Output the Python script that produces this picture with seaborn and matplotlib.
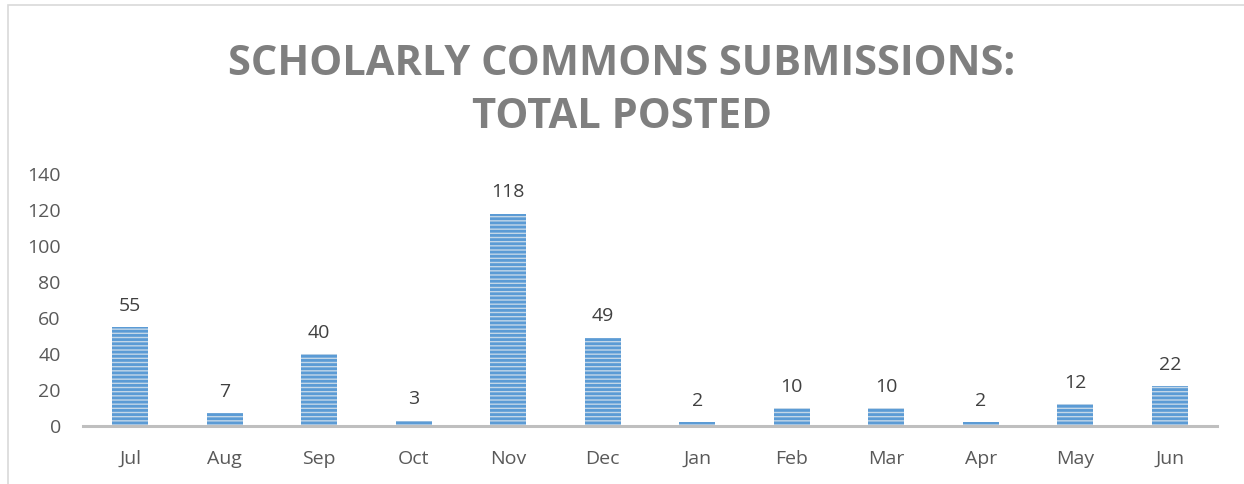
import matplotlib
matplotlib.use("Agg")
import matplotlib.pyplot as plt
import pandas as pd
import seaborn as sns
from matplotlib.patches import Rectangle

# --- Chart data ---
MONTHS = ["Jul", "Aug", "Sep", "Oct", "Nov", "Dec", "Jan", "Feb", "Mar", "Apr", "May", "Jun"]
POSTED = [55, 7, 40, 3, 118, 49, 2, 10, 10, 2, 12, 22]
Y_TICKS = [0, 20, 40, 60, 80, 100, 120, 140]
TITLE = "SCHOLARLY COMMONS SUBMISSIONS:\nTOTAL POSTED"

sns.set_style("white")
plt.rcParams["font.family"] = ["Open Sans", "DejaVu Sans"]
plt.rcParams["hatch.linewidth"] = 2.0

df = pd.DataFrame({"month": MONTHS, "posted": POSTED})

fig = plt.figure(figsize=(12.44, 4.84), dpi=100)
ax = fig.add_axes([0.0667, 0.1198, 0.9116, 0.5207])

sns.barplot(data=df, x="month", y="posted", order=MONTHS, width=0.38,
            color="#BDD7EE", ax=ax)

# striped fill like the office pattern fill
for bar in ax.patches:
    bar.set_hatch("----")
    bar.set_edgecolor("#5B9BD5")
    bar.set_linewidth(0)

for i, v in enumerate(POSTED):
    ax.annotate(str(v), (i, v), xytext=(0, 9), textcoords="offset points",
                ha="center", va="bottom", fontsize=14, color="#404040")

ax.set_ylim(0, 140)
ax.set_xlim(-0.5, len(MONTHS) - 0.5)
ax.set_yticks(Y_TICKS)
ax.set_xlabel("")
ax.set_ylabel("")
ax.tick_params(axis="both", length=0, labelsize=14, labelcolor="#595959")
ax.tick_params(axis="y", pad=16)
ax.tick_params(axis="x", pad=17)

for side in ["top", "right", "left"]:
    ax.spines[side].set_visible(False)
ax.spines["bottom"].set_color("#BFBFBF")
ax.spines["bottom"].set_linewidth(2.2)
ax.spines["bottom"].set_zorder(5)

fig.text(0.5, 0.812, TITLE, ha="center", va="center", fontsize=30,
         fontweight="bold", color="#7F7F7F", linespacing=1.4)

# thin chart-area border
fig.add_artist(Rectangle((0.0065, -0.01), 1.0, 1.0, transform=fig.transFigure,
                         fill=False, edgecolor="#D9D9D9", linewidth=1.2))

fig.savefig("out.png", dpi=100)
